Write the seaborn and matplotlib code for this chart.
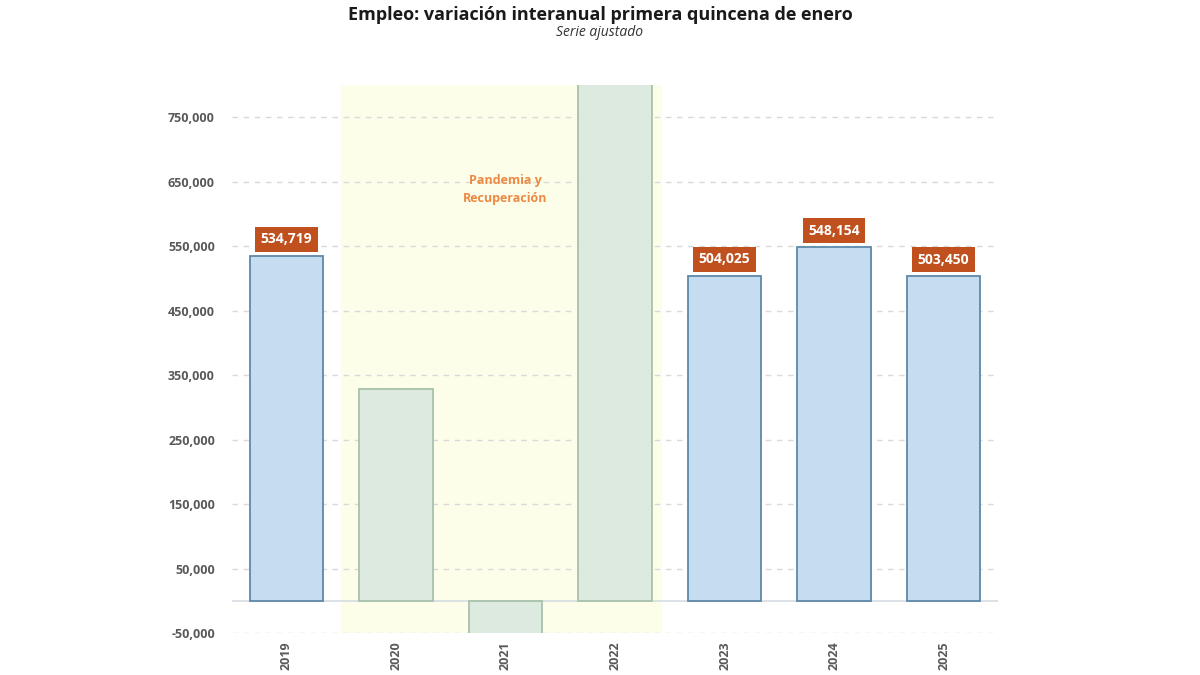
import matplotlib.pyplot as plt
import seaborn as sns
import pandas as pd

# Data
years = ["2019", "2020", "2021", "2022", "2023", "2024", "2025"]
empleo = [534719, 328000, -60000, 900000, 504025, 548154, 503450]
periodo = ["normal", "pandemia", "pandemia", "pandemia", "normal", "normal", "normal"]
etiquetas = ["534,719", None, None, None, "504,025", "548,154", "503,450"]
yticks = [-50000, 50000, 150000, 250000, 350000, 450000, 550000, 650000, 750000]

df = pd.DataFrame({"year": years, "empleo": empleo, "periodo": periodo})

fill = {"normal": "#C5DCF1", "pandemia": "#DDEADF"}
edge = {"normal": "#5E88A8", "pandemia": "#A8C2AC"}

sns.set_style("white")
plt.rcParams["font.family"] = ["Open Sans", "DejaVu Sans"]

fig = plt.figure(figsize=(12, 6.75), dpi=100)
ax = fig.add_axes([0.193, 0.062, 0.639, 0.812])

sns.barplot(data=df, x="year", y="empleo", hue="year",
            palette=[fill[p] for p in periodo], legend=False, saturation=1,
            width=0.67, dodge=False, ax=ax, zorder=3)
for patch, p in zip(ax.patches, periodo):
    patch.set_edgecolor(edge[p])
    patch.set_linewidth(1.3)

# shaded pandemic period
ax.axvspan(0.5, 3.42, color="#FDFEE9", zorder=0)

ax.set_ylim(-50000, 800000)
ax.set_xlim(-0.5, 6.5)
ax.set_yticks(yticks)
ax.set_yticklabels([f"{v:,}" for v in yticks])
ax.grid(axis="y", linestyle=(0, (4, 4)), color="#D9D9D9", linewidth=1, zorder=1)
ax.set_axisbelow(True)
ax.axhline(0, color="#D5DDE3", linewidth=1.2, zorder=2)
sns.despine(ax=ax, left=True, bottom=True)

ax.tick_params(axis="y", length=0, pad=12, labelsize=9, labelcolor="#595959")
ax.tick_params(axis="x", length=0, pad=6, labelsize=9, labelcolor="#595959",
               labelrotation=90)
for t in ax.get_yticklabels() + ax.get_xticklabels():
    t.set_fontweight("bold")
ax.set_xlabel("")
ax.set_ylabel("")

for i, (v, lab) in enumerate(zip(empleo, etiquetas)):
    if lab:
        ax.annotate(lab, (i, v), xytext=(0, 7), textcoords="offset points",
                    ha="center", va="bottom", fontsize=10, fontweight="bold",
                    color="white", zorder=5,
                    bbox=dict(boxstyle="square,pad=0.4", fc="#C0501E", ec="none"))

ax.text(2, 638000, "Pandemia y\nRecuperación", ha="center", va="center",
        fontsize=9, fontweight="bold", color="#EC8A44", linespacing=1.5, zorder=4)

fig.text(0.5, 0.978, "Empleo: variación interanual primera quincena de enero",
         ha="center", va="center", fontsize=13, fontweight="bold", color="#1a1a1a")
fig.text(0.5, 0.952, "Serie ajustado", ha="center", va="center",
         fontsize=10, style="italic", color="#333333")

fig.savefig("out.png", dpi=100)
